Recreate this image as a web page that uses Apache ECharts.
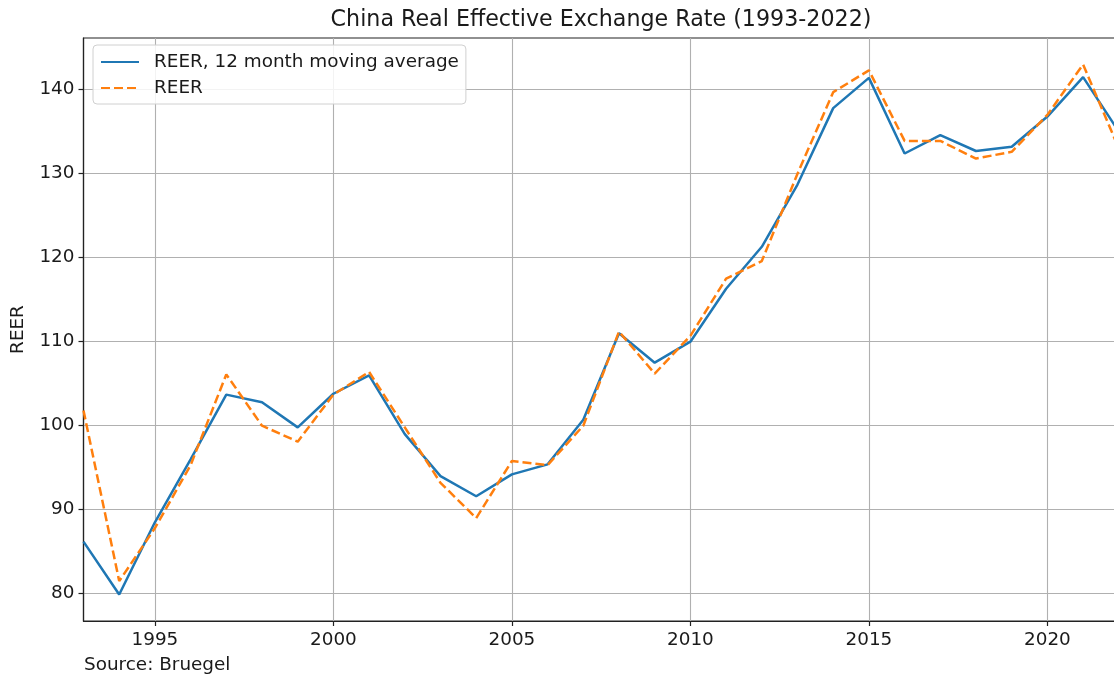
<!DOCTYPE html>
<html>
<head>
<meta charset="utf-8">
<script src="https://cdn.jsdelivr.net/npm/echarts@6/dist/echarts.min.js"></script>
<style>
html,body{margin:0;padding:0;background:#fff;overflow:hidden;width:1114px;height:677px;}
#chart{width:1120px;height:677px;}
</style>
</head>
<body>
<div id="chart"></div>
<script>
const years = [1993,1994,1995,1996,1997,1998,1999,2000,2001,2002,2003,2004,2005,2006,2007,2008,2009,2010,2011,2012,2013,2014,2015,2016,2017,2018,2019,2020,2021,2022];
const reerMovingAvg = [86.2,79.9,88.5,96.0,103.7,102.8,99.8,103.8,106.0,99.0,94.0,91.6,94.2,95.4,100.7,111.0,107.5,110.0,116.3,121.3,128.7,137.8,141.4,132.4,134.6,132.7,133.2,136.8,141.5,135.0];
const reer = [101.8,81.5,87.8,95.3,106.1,100.0,98.1,103.7,106.4,99.8,93.2,89.0,95.8,95.3,100.0,111.2,106.2,110.7,117.5,119.6,130.0,139.7,142.3,133.9,133.9,131.8,132.6,137.0,143.0,133.0];
const xTicks = [1995,2000,2005,2010,2015,2020];
const yTicks = [80,90,100,110,120,130,140];
const seriesNames = ['REER, 12 month moving average','REER'];
const titleText = 'China Real Effective Exchange Rate (1993-2022)';
const sourceText = 'Source: Bruegel';

const FONT = 'DejaVu Sans';
const chart = echarts.init(document.getElementById('chart'), null, {renderer:'canvas'});
const pairs = (vals) => years.map((y,i)=>[y, vals[i]]);

chart.setOption({
  animation:false,
  backgroundColor:'#ffffff',
  textStyle:{fontFamily:FONT},
  grid:{left:83.5, right:1.2, top:38, bottom:56, show:true, borderColor:'#222', borderWidth:1.2, backgroundColor:'transparent'},
  xAxis:{
    type:'value', min:1993, max:2022,
    axisLine:{show:true, onZero:false, lineStyle:{color:'#222', width:1.2}},
    axisTick:{show:true, length:5, customValues:xTicks, lineStyle:{color:'#222', width:1.2}},
    axisLabel:{customValues:xTicks, formatter:(v)=>String(v), fontSize:18.4, color:'#1a1a1a', fontFamily:FONT, margin:10},
    splitLine:{show:true, lineStyle:{color:'#b0b0b0', width:1.1}}
  },
  yAxis:{
    type:'value', min:76.75, max:146.15,
    name:'REER', nameLocation:'middle', nameGap:56, nameRotate:90,
    nameTextStyle:{fontSize:18.4, color:'#1a1a1a', fontFamily:FONT},
    axisLine:{show:true, onZero:false, lineStyle:{color:'#222', width:1.2}},
    axisTick:{show:true, length:5, customValues:yTicks, lineStyle:{color:'#222', width:1.2}},
    axisLabel:{customValues:yTicks, formatter:(v)=>String(v), fontSize:18.4, color:'#1a1a1a', fontFamily:FONT, margin:9},
    splitLine:{show:true, lineStyle:{color:'#b0b0b0', width:1.1}}
  },
  legend:{
    orient:'vertical', left:93, top:45,
    padding:[6.5,7,5.5,7], itemWidth:38, itemHeight:14, itemGap:5,
    backgroundColor:'rgba(255,255,255,0.85)', borderColor:'#d0d0d0', borderWidth:1, borderRadius:4,
    itemStyle:{opacity:0},
    textStyle:{fontSize:18.4, color:'#1a1a1a', fontFamily:FONT, lineHeight:21, padding:[0,0,0,10]},
    data:seriesNames
  },
  graphic:[
    {type:'text', x:601, y:20, style:{text:titleText, font:'22.2px "DejaVu Sans"', fill:'#1a1a1a', textAlign:'center', textVerticalAlign:'middle'}},
    {type:'text', x:84, y:665, style:{text:sourceText, font:'18.4px "DejaVu Sans"', fill:'#1a1a1a', textAlign:'left', textVerticalAlign:'middle'}}
  ],
  series:[
    {name:seriesNames[0], type:'line', data:pairs(reerMovingAvg), symbol:'none', showSymbol:false,
     lineStyle:{color:'#1f77b4', width:2.5}, itemStyle:{color:'#1f77b4'}, z:3},
    {name:seriesNames[1], type:'line', data:pairs(reer), symbol:'none', showSymbol:false,
     lineStyle:{color:'#ff7f0e', width:2.5, type:[9,4]}, itemStyle:{color:'#ff7f0e'}, z:4}
  ]
});
</script>
</body>
</html>
